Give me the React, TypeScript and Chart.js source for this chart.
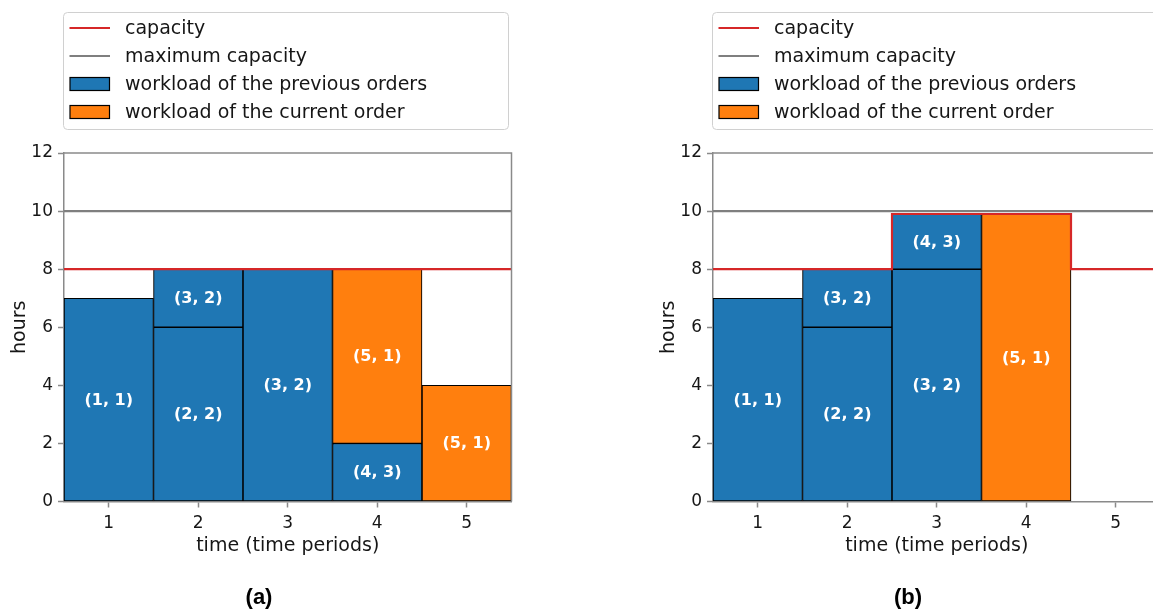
import React, { useEffect, useRef } from 'react';
import { Chart, registerables } from 'chart.js';

Chart.register(...registerables);

// ---------- data ----------
const periods = [1, 2, 3, 4, 5];
const yTickValues = [0, 2, 4, 6, 8, 10, 12];
const legendLabels = [
  'capacity',
  'maximum capacity',
  'workload of the previous orders',
  'workload of the current order',
];
const maxCapacity = 10;

// panel (a)
const aBottom = [7, 6, 8, 2, 4];
const aBottomLabels = ['(1, 1)', '(2, 2)', '(3, 2)', '(4, 3)', '(5, 1)'];
const aBottomCurrent = [false, false, false, false, true];
const aTop = [null, 2, null, 6, null];
const aTopLabels = ['', '(3, 2)', '', '(5, 1)', ''];
const aTopCurrent = [false, false, false, true, false];
const aCapacity = [8, 8, 8, 8, 8];

// panel (b)
const bBottom = [7, 6, 8, 9.9, null];
const bBottomLabels = ['(1, 1)', '(2, 2)', '(3, 2)', '(5, 1)', ''];
const bBottomCurrent = [false, false, false, true, false];
const bTop = [null, 2, 1.9, null, null];
const bTopLabels = ['', '(3, 2)', '(4, 3)', '', ''];
const bTopCurrent = [false, false, false, false, false];
const bCapacity = [8, 8, 9.9, 9.9, 8];

// ---------- style ----------
const BLUE = '#1f77b4';
const ORANGE = '#ff7f0e';
const RED = '#d62728';
const GRAY = '#7f7f7f';
const SPINE = '#8a8a8a';
const TEXT = '#161616';
const FONT = '"DejaVu Sans", sans-serif';

const CANVAS_W = 576;
const CANVAS_H = 610;

type PanelData = {
  bottom: (number | null)[];
  bottomLabels: string[];
  bottomCurrent: boolean[];
  top: (number | null)[];
  topLabels: string[];
  topCurrent: boolean[];
  capacity: number[];
  label: string;
};

const panelA: PanelData = {
  bottom: aBottom, bottomLabels: aBottomLabels, bottomCurrent: aBottomCurrent,
  top: aTop, topLabels: aTopLabels, topCurrent: aTopCurrent,
  capacity: aCapacity, label: '(a)',
};
const panelB: PanelData = {
  bottom: bBottom, bottomLabels: bBottomLabels, bottomCurrent: bBottomCurrent,
  top: bTop, topLabels: bTopLabels, topCurrent: bTopCurrent,
  capacity: bCapacity, label: '(b)',
};

const decorPlugin = {
  id: 'decor',
  afterDatasetsDraw(chart: any) {
    const ctx = chart.ctx;
    const area = chart.chartArea;
    // bar labels
    ctx.save();
    ctx.fillStyle = '#ffffff';
    ctx.font = `bold 16px ${FONT}`;
    ctx.textAlign = 'center';
    ctx.textBaseline = 'middle';
    chart.data.datasets.forEach((ds: any, di: number) => {
      if (!ds.segLabels) return;
      const meta = chart.getDatasetMeta(di);
      meta.data.forEach((el: any, i: number) => {
        const txt = ds.segLabels[i];
        const v = ds.data[i] && ds.data[i].y;
        if (!txt || v == null) return;
        const p = el.getProps(['x', 'y', 'base'], true);
        ctx.fillText(txt, p.x, (p.y + p.base) / 2 + 1);
      });
    });
    ctx.restore();
    // top & right spines
    ctx.save();
    ctx.strokeStyle = SPINE;
    ctx.lineWidth = 1.5;
    ctx.beginPath();
    ctx.moveTo(area.left, area.top);
    ctx.lineTo(area.right, area.top);
    ctx.lineTo(area.right, area.bottom);
    ctx.stroke();
    ctx.restore();
  },
  afterDraw(chart: any) {
    const ctx = chart.ctx;
    const opts = chart.options.plugins.decor || {};
    // legend box
    ctx.save();
    const bx = 63.5, by = 12.5, bw = 445, bh = 117;
    ctx.beginPath();
    (ctx as any).roundRect(bx, by, bw, bh, 4);
    ctx.fillStyle = 'rgba(255,255,255,0.9)';
    ctx.fill();
    ctx.strokeStyle = '#d0d0d0';
    ctx.lineWidth = 1;
    ctx.stroke();
    const rows = [28, 56, 84, 112];
    ctx.font = `19px ${FONT}`;
    ctx.textBaseline = 'middle';
    ctx.textAlign = 'left';
    legendLabels.forEach((lab, i) => {
      const y = rows[i];
      if (i === 0 || i === 1) {
        ctx.strokeStyle = i === 0 ? RED : GRAY;
        ctx.lineWidth = 2;
        ctx.beginPath();
        ctx.moveTo(69.5, y);
        ctx.lineTo(110, y);
        ctx.stroke();
      } else {
        ctx.fillStyle = i === 2 ? BLUE : ORANGE;
        ctx.fillRect(70, y - 6.5, 39.5, 13);
        ctx.strokeStyle = '#000';
        ctx.lineWidth = 1.2;
        ctx.strokeRect(70, y - 6.5, 39.5, 13);
      }
      ctx.fillStyle = TEXT;
      ctx.fillText(lab, 125, y + 1);
    });
    // panel label
    ctx.font = `bold 22px "Liberation Sans", Arial, sans-serif`;
    ctx.textAlign = 'center';
    ctx.fillStyle = '#000';
    ctx.fillText(opts.panelLabel || '', 259, 598);
    ctx.restore();
  },
};

function buildConfig(p: PanelData): any {
  const last = periods[periods.length - 1];
  const capPoints = periods
    .map((x, i) => ({ x: x - 0.5, y: p.capacity[i] }))
    .concat([{ x: last + 0.5, y: p.capacity[p.capacity.length - 1] }]);
  const maxPoints = [
    { x: periods[0] - 0.5, y: maxCapacity },
    { x: last + 0.5, y: maxCapacity },
  ];
  const barCommon = {
    type: 'bar',
    stack: 'w',
    borderColor: '#000',
    borderWidth: 1.1,
    borderSkipped: false,
    barPercentage: 1,
    categoryPercentage: 1,
  };
  return {
    type: 'bar',
    data: {
      datasets: [
        {
          type: 'line', label: legendLabels[0], stack: 'cap', data: capPoints,
          borderColor: RED, borderWidth: 2.2, pointRadius: 0, stepped: true, fill: false,
        },
        {
          type: 'line', label: legendLabels[1], stack: 'max', data: maxPoints,
          borderColor: GRAY, borderWidth: 2.2, pointRadius: 0, fill: false,
        },
        {
          ...barCommon,
          label: 'bottom',
          data: periods.map((x, i) => ({ x, y: p.bottom[i] })),
          backgroundColor: p.bottomCurrent.map((c) => (c ? ORANGE : BLUE)),
          segLabels: p.bottomLabels,
        },
        {
          ...barCommon,
          label: 'top',
          data: periods.map((x, i) => ({ x, y: p.top[i] })),
          backgroundColor: p.topCurrent.map((c) => (c ? ORANGE : BLUE)),
          segLabels: p.topLabels,
        },
      ],
    },
    options: {
      responsive: false,
      animation: false,
      devicePixelRatio: 1,
      layout: { padding: { left: 0, top: 153, right: 64.5, bottom: 52.5 } },
      plugins: {
        legend: { display: false },
        tooltip: { enabled: false },
        decor: { panelLabel: p.label },
      },
      scales: {
        x: {
          type: 'linear',
          min: 0.5,
          max: 5.5,
          offset: false,
          stacked: true,
          afterBuildTicks: (scale: any) => {
            scale.ticks = periods.map((v) => ({ value: v }));
          },
          afterFit: (scale: any) => { scale.height = 56; },
          ticks: {
            color: TEXT,
            font: { family: FONT, size: 17 },
            padding: 6,
            maxRotation: 0,
            autoSkip: false,
            callback: (v: any) => String(v),
          },
          grid: {
            drawOnChartArea: false,
            drawTicks: true,
            tickLength: 6,
            tickWidth: 1.5,
            color: SPINE,
            offset: false,
          },
          border: { display: true, color: SPINE, width: 1.5 },
          title: {
            display: true,
            text: 'time (time periods)',
            color: TEXT,
            font: { family: FONT, size: 19 },
            padding: { top: 0, bottom: 0 },
          },
        },
        y: {
          type: 'linear',
          min: 0,
          max: 12,
          stacked: true,
          afterBuildTicks: (scale: any) => {
            scale.ticks = yTickValues.map((v) => ({ value: v }));
          },
          afterFit: (scale: any) => { scale.width = 64; },
          ticks: {
            color: TEXT,
            font: { family: FONT, size: 17 },
            padding: 5,
            callback: (v: any) => String(v),
          },
          grid: {
            drawOnChartArea: false,
            drawTicks: true,
            tickLength: 6,
            tickWidth: 1.5,
            color: SPINE,
          },
          border: { display: true, color: SPINE, width: 1.5 },
          title: {
            display: true,
            text: 'hours',
            color: TEXT,
            font: { family: FONT, size: 19 },
            padding: { top: 9, bottom: 0 },
          },
        },
      },
    },
    plugins: [decorPlugin],
  };
}

function Panel({ data, left }: { data: PanelData; left: number }) {
  const ref = useRef<HTMLCanvasElement>(null);
  useEffect(() => {
    const chart = new Chart(ref.current as HTMLCanvasElement, buildConfig(data));
    return () => chart.destroy();
  }, [data]);
  return (
    <canvas
      ref={ref}
      width={CANVAS_W}
      height={CANVAS_H}
      style={{ position: 'absolute', left, top: 0, width: CANVAS_W, height: CANVAS_H }}
    />
  );
}

export default function App() {
  return (
    <div
      style={{
        position: 'fixed',
        left: 0,
        top: 0,
        width: 1153,
        height: 610,
        overflow: 'hidden',
        background: '#ffffff',
      }}
    >
      <Panel data={panelA} left={0} />
      <Panel data={panelB} left={649} />
    </div>
  );
}
